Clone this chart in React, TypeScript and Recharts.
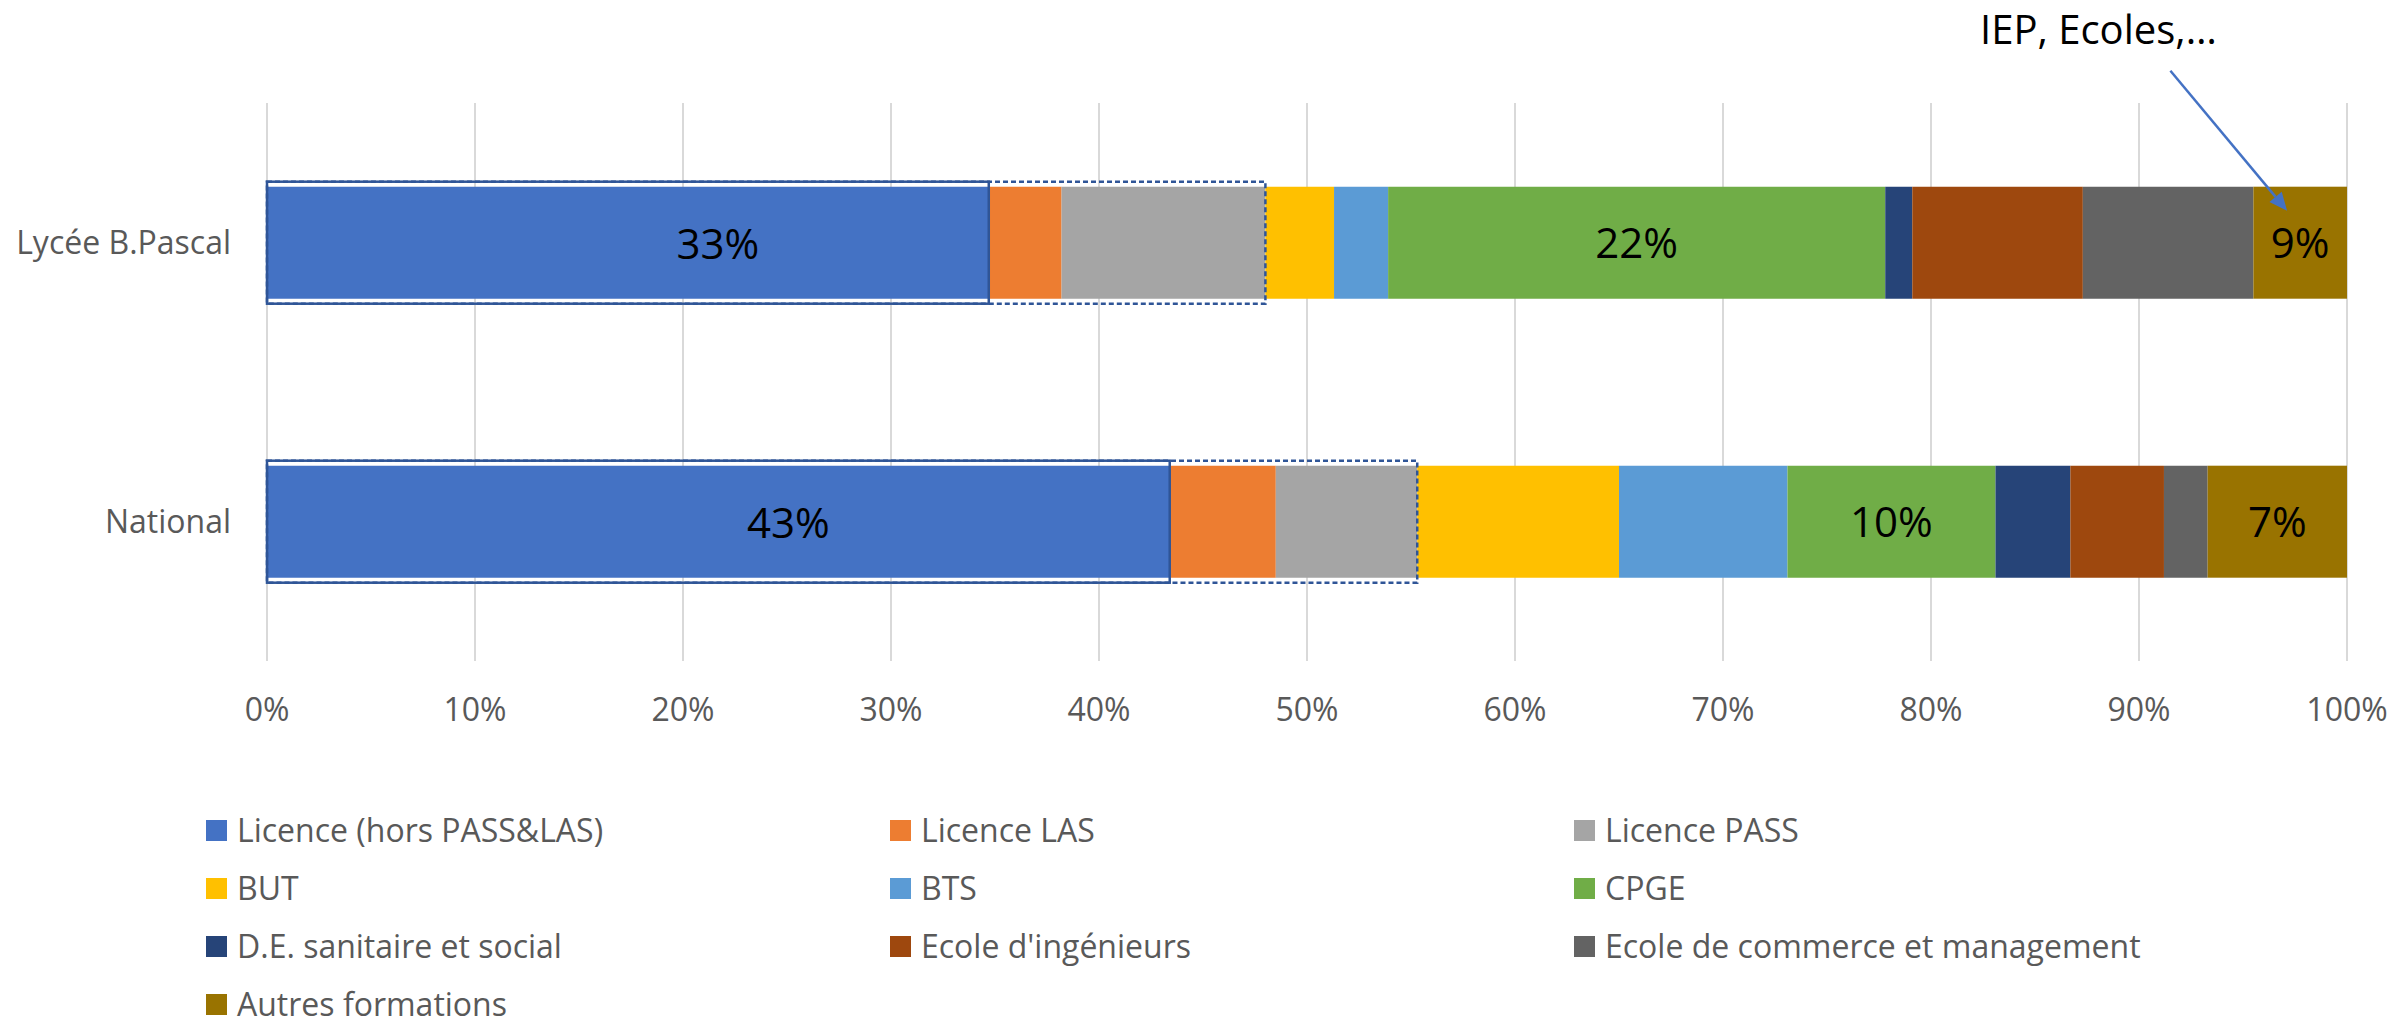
import { BarChart, Bar, XAxis, YAxis, CartesianGrid, LabelList } from 'recharts'

const categories = ['Lycée B.Pascal', 'National']

const seriesKeys = ['licence', 'las', 'pass', 'but', 'bts', 'cpge', 'desan', 'inge', 'commerce', 'autres']
const seriesNames = [
  'Licence (hors PASS&LAS)',
  'Licence LAS',
  'Licence PASS',
  'BUT',
  'BTS',
  'CPGE',
  'D.E. sanitaire et social',
  "Ecole d'ingénieurs",
  'Ecole de commerce et management',
  'Autres formations',
]
const seriesColors = ['#4472C4', '#ED7D31', '#A5A5A5', '#FFC000', '#5B9BD5', '#70AD47', '#264478', '#9E480E', '#636363', '#997300']

// shares in %
const lyceeValues = [34.7, 3.5, 9.8, 3.3, 2.6, 23.9, 1.3, 8.2, 8.2, 4.5]
const nationalValues = [43.4, 5.1, 6.8, 9.7, 8.1, 10.0, 3.6, 4.5, 2.1, 6.7]

// labels as printed on the chart
const licenceLabels = ['33%', '43%']
const cpgeLabels = ['22%', '10%']
const autresLabels = ['9%', '7%']
const licenceLabelShift = [90, 70]

const xTicks = [0, 10, 20, 30, 40, 50, 60, 70, 80, 90, 100]

const annotationText = 'IEP, Ecoles,…'

const rows = categories.map((name, i) => {
  const vals = i === 0 ? lyceeValues : nationalValues
  const row: Record<string, any> = { name }
  seriesKeys.forEach((k, j) => {
    row[k] = vals[j]
  })
  row.licenceLabel = licenceLabels[i]
  row.cpgeLabel = cpgeLabels[i]
  row.autresLabel = autresLabels[i]
  return row
})

const outlineColor = '#2F5597'
const labelFont = "'Open Sans', sans-serif"

// last segment draws the group outlines (on top of everything) and the arrow note
const AutresShape = (props: any) => {
  const { x, y, width, height, fill, payload, index } = props
  const pxPer = width / payload.autres
  const total = seriesKeys.reduce((s, k) => s + payload[k], 0)
  const origin = x + width - total * pxPer
  const soloW = payload.licence * pxPer
  const groupW = (payload.licence + payload.las + payload.pass) * pxPer
  const pad = 5
  const ax1 = x - 83
  const ay1 = y - 116
  const ax2 = x + width * 0.36
  const ay2 = y + 24
  const ang = Math.atan2(ay2 - ay1, ax2 - ax1)
  const hl = 18
  const hw = 8
  const bx = ax2 - hl * Math.cos(ang)
  const by = ay2 - hl * Math.sin(ang)
  return (
    <g>
      <rect x={x} y={y} width={width} height={height} fill={fill} />
      <rect
        x={origin}
        y={y - pad}
        width={groupW}
        height={height + pad * 2}
        fill="none"
        stroke={outlineColor}
        strokeWidth={2.5}
        strokeDasharray="5 3"
      />
      <rect x={origin} y={y - pad} width={soloW} height={height + pad * 2} fill="none" stroke={outlineColor} strokeWidth={2.5} />
      {index === 0 && (
        <g>
          <line x1={ax1} y1={ay1} x2={bx} y2={by} stroke="#4472C4" strokeWidth={2.5} />
          <polygon
            points={`${ax2},${ay2} ${bx + hw * Math.sin(ang)},${by - hw * Math.cos(ang)} ${bx - hw * Math.sin(ang)},${by + hw * Math.cos(ang)}`}
            fill="#4472C4"
          />
          <text x={x - 155} y={y - 143} textAnchor="middle" fontSize={40} fontFamily={labelFont} fill="#000">
            {annotationText}
          </text>
        </g>
      )}
    </g>
  )
}

const renderShiftedLabel = (props: any) => {
  const { x, y, width, height, value, index } = props
  return (
    <text
      x={x + width / 2 + licenceLabelShift[index]}
      y={y + height / 2}
      textAnchor="middle"
      dominantBaseline="central"
      fontSize={42}
      fontFamily={labelFont}
      fill="#000"
    >
      {value}
    </text>
  )
}

const labelStyle = { fontSize: 42, fontFamily: labelFont, fill: '#000' }

const ChartLegend = () => (
  <div
    style={{
      position: 'absolute',
      left: 206,
      top: 801,
      display: 'grid',
      gridTemplateColumns: '684px 684px 684px',
      gridAutoRows: '58px',
      fontFamily: labelFont,
      fontSize: 32,
      lineHeight: '30px',
      color: '#595959',
    }}
  >
    {seriesNames.map((n, i) => (
      <div key={n} style={{ display: 'flex', alignItems: 'center', whiteSpace: 'nowrap' }}>
        <span style={{ width: 21, height: 21, background: seriesColors[i], marginRight: 10, flex: 'none' }} />
        <span>{n}</span>
      </div>
    ))}
  </div>
)

export default function App() {
  return (
    <div style={{ position: 'absolute', left: 0, top: 0, width: 2397, height: 1022, background: '#fff', overflow: 'hidden' }}>
      <BarChart
        width={2397}
        height={1022}
        data={rows}
        layout="vertical"
        margin={{ top: 103, right: 50, bottom: 281, left: 0 }}
        barCategoryGap="30%"
      >
        <CartesianGrid horizontal={false} stroke="#d9d9d9" strokeWidth={2} />
        <XAxis
          type="number"
          domain={[0, 100]}
          ticks={xTicks}
          tickFormatter={(v) => `${v}%`}
          axisLine={false}
          tickLine={false}
          tickSize={0}
          tickMargin={37}
          height={80}
          tick={{ fontSize: 32, fill: '#595959', fontFamily: labelFont }}
          interval={0}
        />
        <YAxis
          type="category"
          dataKey="name"
          width={267}
          axisLine={false}
          tickLine={false}
          tickSize={0}
          tickMargin={36}
          tick={{ fontSize: 32, fill: '#595959', fontFamily: labelFont }}
        />
        {seriesKeys.map((k, i) => {
          if (k === 'autres') {
            return (
              <Bar key={k} dataKey={k} name={seriesNames[i]} stackId="a" fill={seriesColors[i]} shape={AutresShape} isAnimationActive={false}>
                <LabelList dataKey="autresLabel" position="center" style={labelStyle} />
              </Bar>
            )
          }
          return (
            <Bar key={k} dataKey={k} name={seriesNames[i]} stackId="a" fill={seriesColors[i]} isAnimationActive={false}>
              {k === 'licence' && <LabelList dataKey="licenceLabel" content={renderShiftedLabel} />}
              {k === 'cpge' && <LabelList dataKey="cpgeLabel" position="center" style={labelStyle} />}
            </Bar>
          )
        })}
      </BarChart>
      <ChartLegend />
    </div>
  )
}
